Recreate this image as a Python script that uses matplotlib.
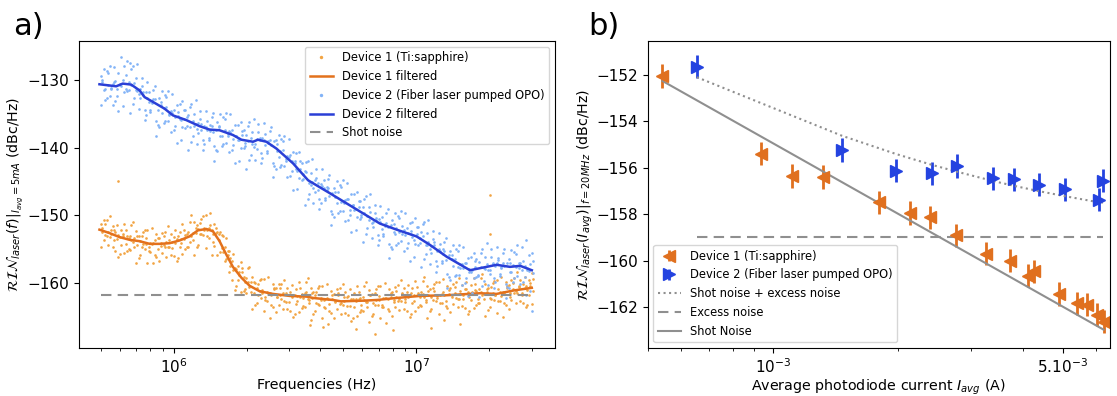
import numpy as np
import matplotlib
matplotlib.use("Agg")
import matplotlib.pyplot as plt
from matplotlib.ticker import FixedLocator, NullFormatter, FixedFormatter

# ---------------- Panel a data (log10 of frequency in Hz) ----------------
freq_log10 = [5.700, 5.712, 5.724, 5.736, 5.748, 5.760, 5.772, 5.784, 5.796, 5.808,
              5.820, 5.832, 5.844, 5.856, 5.868, 5.880, 5.892, 5.904, 5.916, 5.928,
              5.940, 5.952, 5.964, 5.976, 5.988, 6.000, 6.012, 6.024, 6.036, 6.048,
              6.060, 6.072, 6.084, 6.096, 6.108, 6.120, 6.132, 6.144, 6.156, 6.168,
              6.180, 6.192, 6.204, 6.216, 6.228, 6.240, 6.252, 6.264, 6.276, 6.288,
              6.300, 6.312, 6.324, 6.336, 6.348, 6.360, 6.372, 6.384, 6.396, 6.408,
              6.420, 6.432, 6.444, 6.456, 6.468, 6.480, 6.492, 6.504, 6.516, 6.528,
              6.540, 6.552, 6.564, 6.576, 6.588, 6.600, 6.612, 6.624, 6.636, 6.648,
              6.660, 6.672, 6.684, 6.696, 6.708, 6.720, 6.732, 6.744, 6.756, 6.768,
              6.780, 6.792, 6.804, 6.816, 6.828, 6.840, 6.852, 6.864, 6.876, 6.888,
              6.900, 6.912, 6.924, 6.936, 6.948, 6.960, 6.972, 6.984, 6.996, 7.008,
              7.020, 7.032, 7.044, 7.056, 7.068, 7.080, 7.092, 7.104, 7.116, 7.128,
              7.140, 7.152, 7.164, 7.176, 7.188, 7.200, 7.212, 7.224, 7.236, 7.248,
              7.260, 7.272, 7.284, 7.296, 7.308, 7.320, 7.332, 7.344, 7.356, 7.368,
              7.380, 7.392, 7.404, 7.416, 7.428, 7.440, 7.452, 7.464, 7.476]
freq_log10_c = [5.706, 5.718, 5.730, 5.742, 5.754, 5.766, 5.778, 5.790, 5.802, 5.814,
                5.826, 5.838, 5.850, 5.862, 5.874, 5.886, 5.898, 5.910, 5.922, 5.934,
                5.946, 5.958, 5.970, 5.982, 5.994, 6.006, 6.018, 6.030, 6.042, 6.054,
                6.066, 6.078, 6.090, 6.102, 6.114, 6.126, 6.138, 6.150, 6.162, 6.174,
                6.186, 6.198, 6.210, 6.222, 6.234, 6.246, 6.258, 6.270, 6.282, 6.294,
                6.306, 6.318, 6.330, 6.342, 6.354, 6.366, 6.378, 6.390, 6.402, 6.414,
                6.426, 6.438, 6.450, 6.462, 6.474, 6.486, 6.498, 6.510, 6.522, 6.534,
                6.546, 6.558, 6.570, 6.582, 6.594, 6.606, 6.618, 6.630, 6.642, 6.654,
                6.666, 6.678, 6.690, 6.702, 6.714, 6.726, 6.738, 6.750, 6.762, 6.774,
                6.786, 6.798, 6.810, 6.822, 6.834, 6.846, 6.858, 6.870, 6.882, 6.894,
                6.906, 6.918, 6.930, 6.942, 6.954, 6.966, 6.978, 6.990, 7.002, 7.014,
                7.026, 7.038, 7.050, 7.062, 7.074, 7.086, 7.098, 7.110, 7.122, 7.134,
                7.146, 7.158, 7.170, 7.182, 7.194, 7.206, 7.218, 7.230, 7.242, 7.254,
                7.266, 7.278, 7.290, 7.302, 7.314, 7.326, 7.338, 7.350, 7.362, 7.374,
                7.386, 7.398, 7.410, 7.422, 7.434, 7.446, 7.458, 7.470, 7.482]

dev1_a = [-151.2, -153.7, -150.7, -153.2, -151.6, -155.2, -152.9, -154.3, -151.2, -155.2,
          -153.0, -153.9, -152.3, -156.3, -153.0, -155.0, -152.2, -155.4, -154.1, -156.1,
          -153.3, -155.6, -152.4, -154.7, -152.7, -156.0, -153.5, -154.7, -151.3, -155.0,
          -152.5, -153.0, -151.0, -154.7, -151.1, -152.9, -150.0, -153.3, -152.2, -154.5,
          -152.4, -155.4, -153.1, -156.4, -155.3, -159.5, -157.7, -159.6, -156.9, -161.2,
          -159.3, -160.6, -159.1, -163.3, -160.1, -162.2, -159.4, -162.7, -161.5, -163.5,
          -160.8, -163.2, -160.1, -162.6, -160.7, -164.1, -161.7, -163.1, -159.9, -163.7,
          -161.4, -162.3, -160.7, -164.6, -161.3, -163.3, -160.4, -163.7, -162.4, -164.4,
          -161.6, -163.9, -160.8, -163.2, -161.3, -164.7, -162.3, -163.6, -160.4, -164.3,
          -162.0, -162.8, -161.0, -164.9, -161.5, -163.3, -160.4, -163.6, -162.2, -164.2,
          -161.3, -163.6, -160.3, -162.7, -160.7, -164.1, -161.7, -162.9, -159.7, -163.6,
          -161.3, -162.1, -160.4, -164.2, -160.8, -162.7, -159.8, -163.0, -161.7, -163.7,
          -160.8, -163.1, -159.9, -162.3, -160.3, -163.7, -161.3, -162.5, -159.3, -163.2,
          -160.9, -161.7, -160.1, -164.0, -160.6, -162.5, -159.6, -162.7, -161.3, -163.2,
          -160.3, -162.5, -159.2, -161.5, -159.6, -162.9, -160.5, -161.7, -158.5]
dev1_b = [-154.7, -150.7, -153.0, -150.1, -154.7, -152.4, -156.2, -152.1, -155.6, -153.1,
          -155.1, -150.9, -157.1, -153.0, -154.7, -152.2, -157.0, -154.0, -157.0, -152.8,
          -156.8, -152.6, -154.7, -151.6, -155.8, -153.2, -156.8, -152.5, -155.7, -152.9,
          -154.6, -150.0, -155.8, -151.4, -152.8, -150.1, -154.8, -151.9, -155.9, -151.2,
          -155.9, -152.4, -155.4, -153.3, -158.4, -156.7, -161.0, -157.4, -161.3, -159.1,
          -161.4, -157.6, -163.9, -160.0, -161.8, -159.4, -164.2, -161.3, -165.2, -160.2,
          -164.3, -160.2, -162.4, -159.5, -163.8, -161.3, -165.0, -160.9, -164.3, -161.6,
          -163.5, -159.3, -165.5, -161.3, -163.0, -160.5, -165.2, -162.3, -166.1, -161.1,
          -165.1, -160.9, -163.1, -160.1, -164.4, -161.9, -165.6, -161.4, -164.8, -162.2,
          -164.1, -159.8, -165.8, -161.6, -163.2, -160.5, -165.2, -162.2, -165.9, -160.9,
          -164.8, -160.6, -162.6, -159.6, -163.8, -161.3, -165.0, -160.7, -164.1, -161.5,
          -163.4, -159.1, -165.2, -160.9, -162.5, -159.9, -164.6, -161.6, -165.4, -160.4,
          -164.3, -160.1, -162.2, -159.2, -163.4, -160.9, -164.6, -160.3, -163.7, -161.1,
          -163.0, -158.7, -164.9, -160.7, -162.3, -159.7, -164.4, -161.3, -165.0, -159.9,
          -163.8, -159.5, -161.5, -158.4, -162.7, -160.1, -163.6, -159.5, -163.1]
dev1_c = [-152.4, -151.2, -154.4, -152.1, -153.7, -151.4, -155.7, -153.1, -152.1, -154.9,
          -151.4, -154.6, -153.1, -155.9, -152.4, -154.2, -155.3, -151.8, -155.8, -153.4,
          -154.5, -153.1, -156.1, -153.6, -154.8, -152.2, -156.3, -153.5, -152.2, -154.7,
          -150.9, -153.7, -151.8, -154.3, -150.5, -152.1, -153.1, -149.7, -153.9, -151.8,
          -153.6, -152.9, -156.8, -155.3, -157.4, -155.7, -160.5, -158.4, -157.8, -160.9,
          -157.7, -161.3, -159.9, -162.9, -159.5, -161.4, -162.5, -159.1, -163.2, -160.8,
          -162.0, -160.7, -163.8, -161.5, -162.8, -160.3, -164.5, -161.9, -160.8, -163.4,
          -159.8, -163.0, -161.5, -164.2, -160.7, -162.5, -163.5, -160.1, -164.1, -161.7,
          -162.8, -161.4, -164.5, -162.1, -163.4, -160.9, -165.1, -162.4, -161.3, -164.0,
          -160.4, -163.5, -161.8, -164.5, -160.9, -162.5, -163.5, -160.0, -163.9, -161.5,
          -162.5, -161.1, -164.0, -161.6, -162.8, -160.3, -164.5, -161.7, -160.6, -163.3,
          -159.7, -162.8, -161.2, -163.8, -160.2, -161.9, -162.9, -159.4, -163.4, -161.0,
          -162.0, -160.6, -163.6, -161.2, -162.4, -159.9, -164.1, -161.3, -160.2, -162.9,
          -159.3, -162.4, -160.9, -163.6, -160.0, -161.7, -162.7, -159.1, -163.0, -160.5,
          -161.5, -160.0, -162.9, -160.4, -161.7, -159.1, -163.3, -160.5, -159.4]
dev1_d = [-151.8, -152.9, -152.4, -152.8, -152.2, -153.5, -153.2, -152.8, -154.2, -153.3,
          -153.7, -153.4, -154.4, -153.8, -154.2, -153.4, -154.6, -154.2, -153.7, -155.0,
          -154.0, -154.3, -153.9, -154.7, -153.9, -154.1, -153.1, -154.1, -153.5, -152.8,
          -153.9, -152.6, -152.6, -152.0, -152.7, -151.9, -152.2, -151.4, -152.7, -152.6,
          -152.8, -154.8, -154.7, -155.9, -156.3, -158.0, -157.9, -158.8, -158.4, -159.9,
          -159.9, -159.9, -161.4, -160.7, -161.2, -161.0, -162.0, -161.4, -161.8, -160.9,
          -162.1, -161.8, -161.4, -162.8, -161.8, -162.1, -161.7, -162.7, -162.0, -162.2,
          -161.3, -162.5, -162.2, -161.7, -163.1, -162.2, -162.5, -162.2, -163.1, -162.4,
          -162.7, -161.8, -163.0, -162.6, -162.1, -163.4, -162.4, -162.7, -162.3, -163.2,
          -162.5, -162.8, -161.8, -162.9, -162.5, -161.9, -163.2, -162.2, -162.4, -162.0,
          -162.8, -162.1, -162.3, -161.4, -162.4, -162.0, -161.5, -162.7, -161.7, -162.0,
          -161.6, -162.5, -161.8, -162.0, -161.1, -162.2, -161.8, -161.3, -162.6, -161.6,
          -161.8, -161.4, -162.3, -161.6, -161.8, -160.9, -162.0, -161.5, -161.0, -162.3,
          -161.3, -161.6, -161.3, -162.2, -161.5, -161.8, -160.9, -161.9, -161.4, -160.8,
          -162.0, -160.9, -161.1, -160.6, -161.5, -160.7, -161.0, -160.0, -161.1]
dev1_extra_log10f = [5.770, 7.304, 7.304, 6.830, 7.060, 6.615, 6.750, 6.905, 6.560, 7.180]
dev1_extra_v = [-144.9, -147.0, -152.7, -167.5, -166.6, -166.5, -166.8, -166.9, -166.2, -166.0]

dev2_a = [-129.4, -131.5, -128.7, -132.4, -130.5, -133.1, -129.0, -130.8, -127.9, -131.6,
          -127.5, -133.5, -129.6, -132.0, -129.7, -134.4, -132.6, -134.4, -131.4, -136.1,
          -132.6, -134.8, -132.2, -136.1, -134.5, -137.4, -133.7, -135.8, -133.1, -137.0,
          -135.2, -139.1, -135.0, -137.2, -134.5, -138.8, -136.9, -138.6, -135.4, -139.8,
          -136.2, -138.2, -135.5, -139.3, -137.5, -140.3, -136.6, -138.9, -136.2, -140.0,
          -138.1, -141.8, -137.7, -139.5, -136.5, -140.8, -138.8, -140.4, -137.5, -142.2,
          -138.9, -141.3, -138.7, -142.7, -141.2, -144.1, -140.6, -143.1, -140.6, -144.8,
          -143.4, -147.6, -143.7, -145.9, -143.2, -147.5, -145.6, -147.4, -144.6, -149.3,
          -145.9, -148.1, -145.5, -149.3, -147.7, -150.6, -146.9, -149.2, -146.5, -150.5,
          -148.8, -152.7, -148.8, -151.1, -148.4, -152.9, -151.0, -152.7, -149.7, -154.2,
          -150.7, -152.8, -150.1, -153.8, -152.1, -154.8, -151.1, -153.2, -150.4, -154.3,
          -152.5, -156.5, -152.6, -154.9, -152.3, -156.8, -155.0, -156.8, -153.9, -158.6,
          -155.2, -157.5, -154.9, -158.8, -157.2, -160.0, -156.3, -158.4, -155.5, -159.1,
          -156.9, -160.5, -156.1, -158.0, -155.0, -159.2, -157.1, -158.7, -155.6, -160.1,
          -156.4, -158.3, -155.4, -158.9, -157.1, -159.8, -153.6, -158.2, -155.5]
dev2_b = [-133.7, -128.3, -132.6, -127.9, -133.6, -130.1, -134.6, -126.6, -131.7, -127.2,
          -134.8, -127.9, -131.4, -134.3, -130.9, -135.9, -130.2, -134.7, -132.8, -138.2,
          -136.9, -131.6, -136.1, -131.6, -137.6, -134.4, -139.3, -133.5, -136.9, -134.4,
          -140.3, -133.5, -136.8, -139.5, -135.7, -140.3, -134.5, -138.9, -136.8, -141.9,
          -140.5, -135.0, -139.4, -134.8, -140.6, -137.3, -142.2, -136.6, -140.0, -137.4,
          -143.2, -136.2, -139.5, -141.8, -137.7, -142.3, -136.4, -140.7, -138.9, -144.3,
          -143.2, -138.1, -142.6, -138.2, -144.3, -141.1, -146.2, -140.8, -144.4, -142.2,
          -148.5, -142.0, -145.5, -148.2, -144.4, -149.0, -143.2, -147.7, -146.0, -151.4,
          -150.2, -144.9, -149.4, -144.8, -150.8, -147.6, -152.5, -146.9, -150.3, -147.9,
          -153.9, -147.1, -150.6, -153.4, -149.6, -154.4, -148.6, -153.0, -151.1, -156.3,
          -155.0, -149.6, -154.0, -149.3, -155.2, -151.8, -156.7, -150.9, -154.2, -151.7,
          -157.6, -150.9, -154.4, -157.2, -153.5, -158.3, -152.6, -157.1, -155.3, -160.7,
          -159.5, -154.3, -158.8, -154.3, -160.3, -157.0, -161.9, -156.1, -159.3, -156.5,
          -162.0, -154.9, -157.9, -160.3, -156.2, -160.7, -154.7, -159.0, -157.0, -162.2,
          -160.7, -155.1, -159.3, -154.4, -160.2, -156.8, -161.7, -155.9, -164.2]
dev2_c = [-130.0, -133.0, -129.0, -131.3, -128.0, -132.4, -130.6, -133.8, -129.2, -131.4,
          -128.4, -132.7, -127.6, -132.6, -131.7, -135.1, -131.8, -133.3, -130.8, -136.6,
          -133.2, -136.3, -132.5, -135.0, -132.0, -136.7, -135.3, -138.8, -134.4, -136.8,
          -133.9, -138.3, -133.0, -137.8, -136.5, -139.5, -136.1, -137.5, -134.8, -140.3,
          -136.8, -139.7, -135.8, -138.2, -135.0, -139.6, -138.2, -141.9, -137.5, -139.8,
          -136.8, -141.0, -135.7, -140.1, -138.5, -141.5, -138.0, -139.3, -136.9, -142.7,
          -139.5, -142.8, -139.0, -141.6, -138.7, -143.4, -142.2, -146.1, -141.9, -144.6,
          -142.1, -146.8, -141.7, -146.5, -145.2, -148.2, -144.8, -146.3, -144.0, -149.8,
          -146.5, -149.6, -145.8, -148.2, -145.2, -149.9, -148.5, -152.2, -147.8, -150.3,
          -147.5, -151.9, -146.8, -151.7, -150.4, -153.6, -150.2, -151.6, -149.1, -154.7,
          -151.3, -154.3, -150.4, -152.7, -149.6, -154.1, -152.7, -156.2, -151.7, -154.1,
          -151.2, -155.7, -150.6, -155.5, -154.3, -157.5, -154.2, -155.7, -153.3, -159.1,
          -155.8, -159.0, -155.2, -157.7, -154.7, -159.3, -157.9, -161.4, -156.8, -158.9,
          -155.6, -159.7, -154.1, -158.6, -157.0, -159.9, -156.3, -157.6, -155.0, -160.6,
          -157.0, -159.8, -155.7, -157.8, -154.6, -159.1, -157.7, -161.2, -156.8]
dev2_d = [-130.3, -131.3, -130.7, -131.1, -130.2, -131.3, -130.7, -130.0, -131.3, -130.3,
          -130.7, -130.4, -131.6, -131.3, -132.2, -131.8, -133.2, -133.1, -132.8, -134.4,
          -133.6, -134.1, -134.0, -135.2, -134.8, -135.4, -134.7, -135.9, -135.7, -135.4,
          -136.9, -136.1, -136.5, -136.3, -137.4, -136.8, -137.3, -136.6, -137.7, -137.3,
          -136.9, -138.2, -137.4, -137.9, -137.6, -138.7, -138.2, -138.8, -138.1, -139.3,
          -139.0, -138.5, -139.9, -138.7, -138.9, -138.6, -139.6, -139.0, -139.6, -139.0,
          -140.5, -140.5, -140.3, -142.0, -141.4, -142.0, -142.0, -143.4, -143.1, -143.9,
          -143.6, -145.2, -145.1, -144.8, -146.3, -145.4, -145.9, -145.8, -147.1, -146.7,
          -147.3, -146.6, -148.0, -147.8, -147.6, -149.2, -148.4, -149.0, -148.8, -150.0,
          -149.6, -150.1, -149.5, -150.9, -150.7, -150.5, -152.0, -151.2, -151.7, -151.4,
          -152.5, -151.9, -152.4, -151.6, -152.9, -152.6, -152.3, -153.7, -152.8, -153.3,
          -153.1, -154.3, -153.9, -154.5, -153.9, -155.3, -155.2, -155.0, -156.6, -155.9,
          -156.5, -156.4, -157.6, -157.2, -157.8, -157.1, -158.4, -158.1, -157.6, -158.8,
          -157.6, -157.8, -157.2, -158.0, -157.2, -157.5, -156.6, -157.8, -157.5, -157.1,
          -158.4, -157.3, -157.6, -157.1, -158.1, -157.5, -158.0, -157.2, -158.5]

dev1_filt_log10f = [5.694, 5.735, 5.777, 5.818, 5.859, 5.901, 5.942, 5.983, 6.024, 6.065,
                    6.100, 6.135, 6.162, 6.189, 6.217, 6.244, 6.279, 6.313, 6.354, 6.409,
                    6.478, 6.547, 6.575, 6.657, 6.689, 6.781, 6.837, 6.919, 7.015, 7.125,
                    7.262, 7.331, 7.400, 7.476]
dev1_filt_v = [-152.1, -152.6, -153.2, -153.6, -153.8, -154.2, -154.2, -154.1, -153.7, -153.1,
               -152.2, -152.0, -152.35, -153.8, -155.8, -157.6, -159.2, -160.4, -161.2, -161.6,
               -161.9, -162.0, -162.2, -162.5, -162.7, -162.6, -162.5, -162.2, -161.9, -161.8,
               -161.5, -161.6, -161.1, -160.7]
dev2_filt_log10f = [5.694, 5.763, 5.790, 5.825, 5.859, 5.880, 5.914, 5.962, 5.997, 6.052,
                    6.107, 6.148, 6.189, 6.244, 6.279, 6.327, 6.347, 6.382, 6.423, 6.492,
                    6.554, 6.643, 6.712, 6.781, 6.850, 6.919, 7.001, 7.056, 7.125, 7.221,
                    7.262, 7.331, 7.386, 7.428, 7.476]
dev2_filt_v = [-130.6, -130.9, -130.5, -130.65, -131.5, -132.5, -133.2, -134.2, -135.2, -135.9,
               -136.8, -137.3, -137.4, -138.1, -138.8, -139.1, -138.8, -139.1, -140.1, -142.3,
               -144.8, -146.7, -148.2, -149.7, -151.2, -152.1, -153.1, -154.35, -156.1, -158.1,
               -157.8, -157.3, -157.6, -157.45, -158.1]
shot_a_f = [5.0e5, 3.0e7]
shot_a_v = [-161.8, -161.8]

# ---------------- Panel b data ----------------
d1_I = [5.41e-4, 9.35e-4, 1.11e-3, 1.323e-3, 1.80e-3, 2.14e-3, 2.385e-3, 2.755e-3,
        3.27e-3, 3.73e-3, 4.12e-3, 4.26e-3, 4.90e-3, 5.40e-3, 5.71e-3, 6.06e-3, 6.27e-3]
d1_rin = [-152.05, -155.40, -156.35, -156.40, -157.49, -157.95, -158.13, -158.90,
          -159.70, -160.00, -160.65, -160.46, -161.43, -161.83, -161.90, -162.33, -162.62]
d2_I = [6.55e-4, 1.466e-3, 1.983e-3, 2.423e-3, 2.78e-3, 3.395e-3, 3.82e-3, 4.39e-3,
        5.05e-3, 6.12e-3, 6.24e-3]
d2_rin = [-151.65, -155.23, -156.12, -156.23, -155.92, -156.45, -156.50, -156.73,
          -156.92, -157.38, -156.56]
rin_err = 0.5
shot_plus_excess = [-152.10, -154.62, -155.41, -155.88, -156.17, -156.57, -156.78,
                    -157.01, -157.22, -157.49, -157.51]
excess_I = [6.55e-4, 6.24e-3]
excess_v = [-159.0, -159.0]
shot_I = [5.41e-4, 6.27e-3]
shot_v = [-152.26, -162.97]

# ---------------- Styling ----------------
C_OR_PT = "#f2a443"
C_OR_LN = "#e3711c"
C_BL_PT = "#82b3f7"
C_BL_LN = "#2a3fd6"
C_OR_MK = "#e0701f"
C_BL_MK = "#2443e0"
C_GREY = "#8f8f8f"

plt.rcParams["font.family"] = ["DejaVu Sans"]
plt.rcParams["mathtext.fontset"] = "dejavusans"

fig = plt.figure(figsize=(11.17, 3.96), dpi=100)
ax1 = fig.add_axes([0.0707, 0.1212, 0.4262, 0.7753])
ax2 = fig.add_axes([0.5797, 0.1212, 0.4141, 0.7753])

PT = dict(linestyle="none", marker="o", ms=1.9, mew=0)
f_grid = 10 ** np.array(freq_log10)
f_grid_c = 10 ** np.array(freq_log10_c)
ax1.plot(f_grid, dev1_a, color=C_OR_PT, label="Device 1 (Ti:sapphire)", **PT)
ax1.plot(f_grid, dev1_b, color=C_OR_PT, **PT)
ax1.plot(f_grid_c, dev1_c, color=C_OR_PT, **PT)
ax1.plot(f_grid_c, dev1_d, color=C_OR_PT, **PT)
ax1.plot(10 ** np.array(dev1_extra_log10f), dev1_extra_v, color=C_OR_PT, **PT)
ax1.plot(10 ** np.array(dev1_filt_log10f), dev1_filt_v, color=C_OR_LN, lw=1.8,
         label="Device 1 filtered")
ax1.plot(f_grid, dev2_a, color=C_BL_PT, label="Device 2 (Fiber laser pumped OPO)", **PT)
ax1.plot(f_grid, dev2_b, color=C_BL_PT, **PT)
ax1.plot(f_grid_c, dev2_c, color=C_BL_PT, **PT)
ax1.plot(f_grid_c, dev2_d, color=C_BL_PT, **PT)
ax1.plot(10 ** np.array(dev2_filt_log10f), dev2_filt_v, color=C_BL_LN, lw=1.8,
         label="Device 2 filtered")
ax1.plot(shot_a_f, shot_a_v, color=C_GREY, lw=1.5, ls=(0, (5, 3)), label="Shot noise")
ax1.set_xscale("log")
ax1.set_xlim(4.07e5, 3.73e7)
ax1.set_ylim(-169.6, -124.2)
ax1.set_yticks([-130, -140, -150, -160])
ax1.tick_params(labelsize=11)
ax1.set_xlabel("Frequencies (Hz)", fontsize=10.3, labelpad=1)
ax1.set_ylabel(r"$\mathcal{RIN}_{laser}(f)|_{I_{avg}=5mA}$ (dBc/Hz)", fontsize=10.2,
               labelpad=2)
ax1.legend(loc="upper right", fontsize=8.3, markerscale=1.3, handlelength=2.0,
           borderaxespad=0.5)

# Panel b
ax2.errorbar(d1_I, d1_rin, yerr=rin_err, fmt="<", ms=8, color=C_OR_MK, ecolor=C_OR_MK,
             elinewidth=2, capsize=0, label="Device 1 (Ti:sapphire)")
ax2.errorbar(d2_I, d2_rin, yerr=rin_err, fmt=">", ms=8, color=C_BL_MK, ecolor=C_BL_MK,
             elinewidth=2, capsize=0, label="Device 2 (Fiber laser pumped OPO)")
ax2.plot(d2_I, shot_plus_excess, color=C_GREY, lw=1.5, ls=":", label="Shot noise + excess noise")
ax2.plot(excess_I, excess_v, color=C_GREY, lw=1.5, ls=(0, (5, 3)), label="Excess noise")
ax2.plot(shot_I, shot_v, color=C_GREY, lw=1.5, ls="-", label="Shot Noise")
ax2.set_xscale("log")
ax2.set_xlim(4.98e-4, 6.50e-3)
ax2.set_ylim(-163.76, -150.54)
ax2.set_yticks([-152, -154, -156, -158, -160, -162])
ax2.xaxis.set_major_locator(FixedLocator([1e-3, 5e-3]))
ax2.xaxis.set_major_formatter(FixedFormatter([r"$10^{-3}$", r"$5.10^{-3}$"]))
ax2.xaxis.set_minor_locator(FixedLocator([5e-4, 6e-4, 7e-4, 8e-4, 9e-4, 2e-3, 3e-3, 4e-3, 6e-3]))
ax2.xaxis.set_minor_formatter(NullFormatter())
ax2.tick_params(labelsize=11)
ax2.set_xlabel(r"Average photodiode current $I_{avg}$ (A)", fontsize=10.3, labelpad=1)
ax2.set_ylabel(r"$\mathcal{RIN}_{laser}(I_{avg})|_{f=20MHz}$ (dBc/Hz)", fontsize=10.2,
               labelpad=1)
handles, labels = ax2.get_legend_handles_labels()
order = [labels.index(l) for l in ["Device 1 (Ti:sapphire)", "Device 2 (Fiber laser pumped OPO)",
                                   "Shot noise + excess noise", "Excess noise", "Shot Noise"]]
ax2.legend([handles[i] for i in order], [labels[i] for i in order],
           loc="lower left", fontsize=8.3, borderaxespad=0.5)

fig.text(0.012, 0.933, "a)", fontsize=22, va="center")
fig.text(0.527, 0.933, "b)", fontsize=22, va="center")

fig.savefig("out.png", dpi=100)
